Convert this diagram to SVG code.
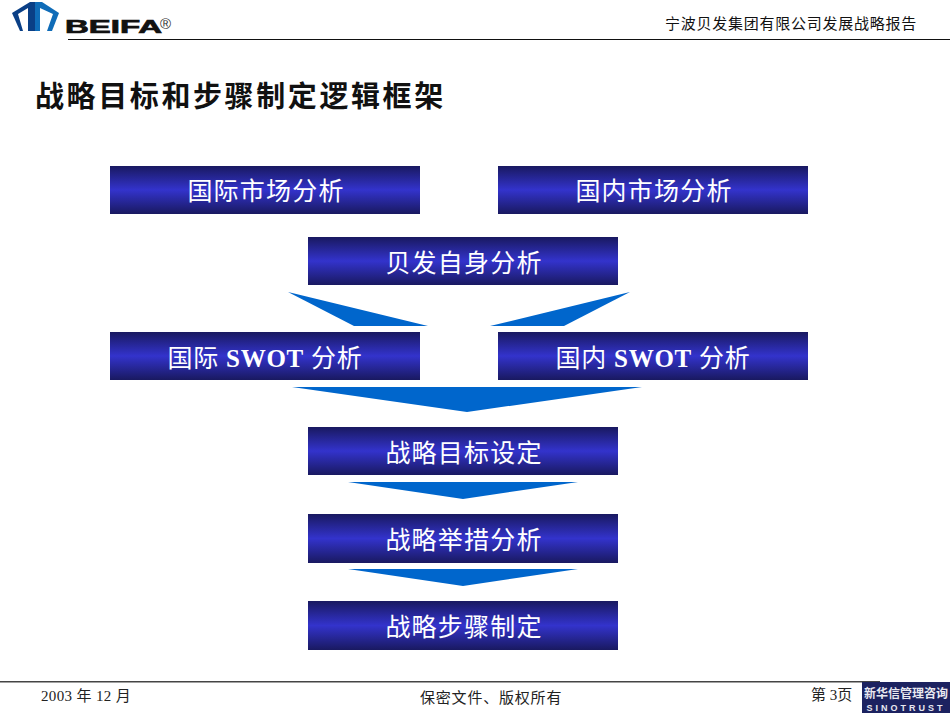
<svg xmlns="http://www.w3.org/2000/svg" width="950" height="713" viewBox="0 0 950 713">
<style>
text{font-family:"Liberation Serif","Noto Sans CJK SC",serif}
.box{fill:url(#g)}
.lbl{fill:#fff;font-size:25px;font-weight:400;text-anchor:middle;letter-spacing:1.2px}
.lbl tspan.b{font-weight:700}
.ar{fill:#0066cc}
.ft{fill:#222;font-size:15px}
</style>
<defs><linearGradient id="g" x1="0" y1="0" x2="0" y2="1"><stop offset="0" stop-color="#191960"/><stop offset=".5" stop-color="#3333cc"/><stop offset="1" stop-color="#191960"/></linearGradient></defs>
<rect width="950" height="713" fill="#fff"/>
<g id="logo">
<path d="M12 13 L30 2 L35 2 L35 31 L20 31 Z" fill="#0a3f86"/>
<path d="M35 2 L42 2 L59 13 L52 31 L35 31 Z" fill="#0f6cb8"/>
<path d="M18 14 L28 8 L28 31 L23 31 Z M40 8 L53 14 L47 31 L40 31 Z" fill="#fff"/>
<text x="65" y="33" font-size="18" font-weight="700" stroke="#111" stroke-width=".7" style="font-family:'Liberation Sans',sans-serif" textLength="97" lengthAdjust="spacingAndGlyphs" fill="#111">BEIFA</text>
<text x="160" y="29" font-size="15" style="font-family:'Liberation Sans',sans-serif" fill="#333">®</text>
</g>
<rect x="68" y="39" width="882" height="1" fill="#111"/>
<text x="665" y="29" font-size="15" letter-spacing=".75" fill="#111">宁波贝发集团有限公司发展战略报告</text>
<text x="35" y="107" font-size="29" font-weight="700" letter-spacing="2.6" fill="#111">战略目标和步骤制定逻辑框架</text>
<g id="connectors" class="connectors">
<polygon class="ar" points="288,292 428,326 354,326"/>
<polygon class="ar" points="630,292 490,326 564,326"/>
<polygon class="ar" points="292,387 642,387 467,412"/>
<polygon class="ar" points="348,482 578,482 463,499"/>
<polygon class="ar" points="348,569 578,569 463,586"/>
</g>
<g id="n1"><rect class="box" x="110" y="166" width="310" height="48"/><text class="lbl" x="266" y="200">国际市场分析</text></g>
<g id="n2"><rect class="box" x="498" y="166" width="310" height="48"/><text class="lbl" x="654" y="200">国内市场分析</text></g>
<g id="n3"><rect class="box" x="308" y="237" width="310" height="48"/><text class="lbl" x="464" y="272">贝发自身分析</text></g>
<g id="n4"><rect class="box" x="110" y="332" width="310" height="48"/><text class="lbl" x="265" y="367" style="letter-spacing:.75px">国际 <tspan class="b">SWOT</tspan> 分析</text></g>
<g id="n5"><rect class="box" x="498" y="332" width="310" height="48"/><text class="lbl" x="653" y="367" style="letter-spacing:.75px">国内 <tspan class="b">SWOT</tspan> 分析</text></g>
<g id="n6"><rect class="box" x="308" y="427" width="310" height="48"/><text class="lbl" x="464" y="462">战略目标设定</text></g>
<g id="n7"><rect class="box" x="308" y="514" width="310" height="49"/><text class="lbl" x="464" y="549">战略举措分析</text></g>
<g id="n8"><rect class="box" x="308" y="601" width="310" height="49"/><text class="lbl" x="464" y="636">战略步骤制定</text></g>
<rect x="0" y="681" width="880" height="1.5" fill="#444"/>
<text class="ft" x="41" y="701" letter-spacing=".35">2003 年 12 月</text>
<text class="ft" x="420" y="703" letter-spacing=".8">保密文件、版权所有</text>
<text class="ft" x="811" y="700">第 3页</text>
<g id="sino">
<rect x="862" y="682" width="88" height="31" fill="#1c2260"/>
<text x="906" y="698" font-size="12" font-weight="700" text-anchor="middle" fill="#e8e8f0">新华信管理咨询</text>
<text x="906" y="711" font-size="9" font-weight="700" text-anchor="middle" letter-spacing="3" fill="#e8e8f0" style="font-family:'Liberation Sans',sans-serif">SINOTRUST</text>
</g>
</svg>
